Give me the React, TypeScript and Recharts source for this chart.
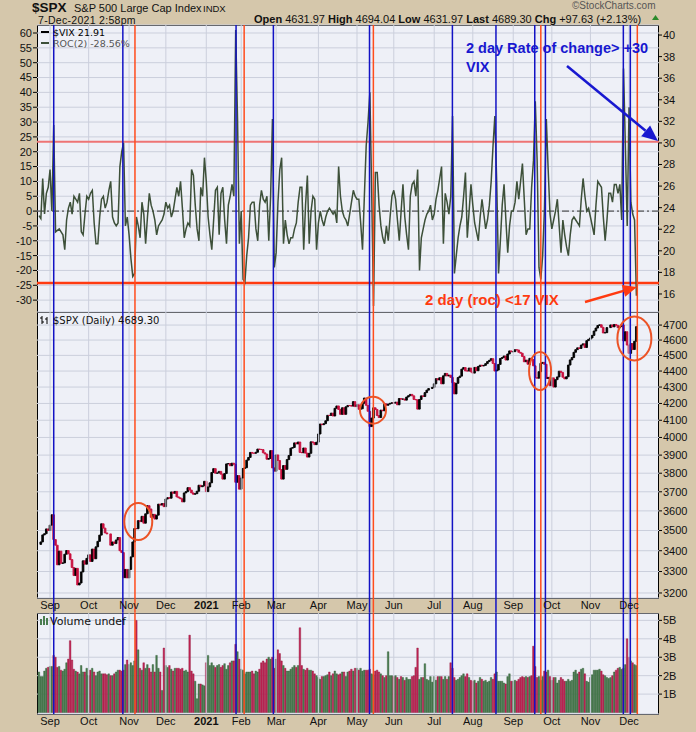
import React from "react";
import {
  Bar,
  CartesianGrid,
  Cell,
  ComposedChart,
  Line,
  ReferenceDot,
  ReferenceLine,
  XAxis,
  YAxis,
} from "recharts";

// trading-day index 0 = 24-Aug-2020, 325 = 7-Dec-2021
const monthStarts = [6, 27, 49, 69, 91, 110, 129, 152, 173, 193, 215, 236, 258, 279, 300, 321];
const monthLabels = ["Sep", "Oct", "Nov", "Dec", "2021", "Feb", "Mar", "Apr", "May", "Jun", "Jul", "Aug", "Sep", "Oct", "Nov", "Dec"];

// ROC(2) of $VIX, percent
const roc = [
  -1.5, -2.5, 11, -1, 6, 8, 14, 0, 29, -7,
  -6.5, -6, -7, -8, -13, -3, 1, 3, -1, 5,
  4, 3, 6, -7, -8, -1, 5, 4, 6, 7,
  -4, -11, -11, -2, 4, 5, 1, 3, 7, 10,
  -2, -4, -5, -4, 15, 20, 23, -5, -2, -8,
  -16, -22, -21, -2, -5, -9, 3, -1, -11, -2,
  6, 2, 0, -3, -8, -5, -4, -3, -1, 3,
  1, 2, -2, 0, 4, 8, 5, 10, 1, -9,
  -6, -4, -5, 14, 12, 2, -6, -10, 8, 5,
  18, 10, -2, -8, -13, -3, 7, 8, -8, 6,
  8, -3, -11, 2, 5, 9, 5, 61, 31, -11,
  0, -23, -24, -15, -9, 2, 3, 3, -6, -10,
  2, 7, 4, 3, 5, -10, 5, 31, -19, -14,
  3, 14, 18, -11, -3, -8, -11, -9, -9, -6,
  -4, 3, 8, 8, -13, 2, 12, -11, 0, 5,
  4, -13, -4, 0, -3, -5, -2, 0, 1, 0,
  -1, 0, -4, 15, 5, 0, -2, -3, -5, -1,
  3, 7, 5, 4, 4, -4, -13, 5, 22, 30,
  40, 6, -32, 13, 13, 2, -5, -9, -11, -5,
  -10, -2, 5, 7, 4, -3, -10, 0, 9, -2,
  -8, -13, 5, 9, 10, 5, 14, -20, -9, -6,
  -3, -1, 0, 2, -3, -1, 4, 7, 11, 15,
  -11, 6, 3, -1, 5, 32, -21, -15, -9, -5,
  -2, 5, 13, -9, 0, 9, 2, -4, -7, -10,
  -2, 4, -1, -6, -3, 2, 10, 22, 32, 10,
  -21, -10, 2, 9, -3, -14, -5, 0, 0, 3,
  10, 4, 10, 16, 4, -8, -6, -6, 8, 17,
  37, 17, -19, -23, -15, 1, 31, 14, -1, -6,
  -3, 0, 4, -5, -14, -3, -8, -12, -15, -8,
  -3, -2, -3, -4, -5, 4, 11, 5, 0, 1,
  -2, -5, -8, 2, 10, 9, 8, -2, -10, -3,
  6, 6, 3, 9, 9, 6, 9, -3, 48, 22,
  -5, 35, 3, -1, -3, -28.56,
];

// $SPX daily close
const spxClose = [
  3431, 3443, 3478, 3484, 3508, 3500,
  3527, 3580, 3455, 3427, 3332, 3398, 3339, 3341, 3383, 3401, 3385, 3357, 3319, 3281, 3315, 3237, 3246, 3298, 3351, 3335, 3363,
  3380, 3348, 3408, 3361, 3419, 3446, 3477, 3534, 3512, 3488, 3483, 3483, 3427, 3443, 3435, 3453, 3465, 3400, 3391, 3271, 3310, 3270,
  3310, 3370, 3443, 3510, 3509, 3550, 3545, 3572, 3537, 3585, 3627, 3610, 3567, 3582, 3558, 3578, 3635, 3630, 3638, 3622,
  3662, 3669, 3666, 3699, 3692, 3702, 3673, 3668, 3663, 3647, 3694, 3701, 3722, 3709, 3694, 3687, 3690, 3703, 3735, 3727, 3732, 3756,
  3701, 3726, 3748, 3804, 3825, 3800, 3801, 3810, 3795, 3768, 3798, 3851, 3853, 3841, 3855, 3849, 3751, 3787, 3714,
  3774, 3826, 3830, 3872, 3887, 3915, 3911, 3910, 3916, 3934, 3932, 3931, 3913, 3906, 3877, 3881, 3925, 3829, 3811,
  3901, 3870, 3820, 3768, 3842, 3821, 3875, 3898, 3939, 3943, 3969, 3963, 3974, 3915, 3913, 3940, 3911, 3889, 3910, 3975, 3971, 3959, 3973,
  4020, 4078, 4074, 4080, 4097, 4129, 4128, 4142, 4125, 4171, 4185, 4164, 4135, 4174, 4135, 4180, 4188, 4187, 4184, 4211, 4181,
  4192, 4165, 4168, 4201, 4233, 4189, 4153, 4063, 4113, 4174, 4164, 4128, 4116, 4160, 4156, 4198, 4189, 4196, 4201, 4204,
  4202, 4208, 4192, 4230, 4226, 4227, 4220, 4239, 4247, 4255, 4246, 4224, 4222, 4166, 4224, 4246, 4242, 4266, 4281, 4291, 4291, 4298,
  4320, 4352, 4344, 4358, 4320, 4370, 4385, 4369, 4374, 4360, 4327, 4258, 4323, 4359, 4368, 4412, 4422, 4401, 4400, 4419, 4395,
  4387, 4423, 4402, 4429, 4437, 4432, 4436, 4447, 4460, 4468, 4479, 4448, 4400, 4406, 4442, 4480, 4486, 4496, 4470, 4509, 4529, 4523,
  4524, 4537, 4535, 4520, 4514, 4493, 4459, 4469, 4443, 4481, 4474, 4433, 4358, 4355, 4396, 4449, 4455, 4443, 4353, 4360, 4308,
  4357, 4300, 4346, 4363, 4399, 4391, 4361, 4351, 4364, 4438, 4471, 4486, 4520, 4537, 4549, 4545, 4567, 4575, 4551, 4596, 4605,
  4614, 4631, 4660, 4680, 4697, 4702, 4685, 4647, 4649, 4683, 4683, 4701, 4688, 4704, 4698, 4682, 4690, 4701, 4595, 4655, 4567,
  4513, 4577, 4538, 4592, 4689.3,
];

// volume, billions
const volume = [
  2.2, 1.95, 1.95, 2.25, 2.4, 2.45, 2.5, 2.5, 3.1, 3.0,
  2.45, 2.5, 2.3, 2.25, 2.35, 2.7, 2.9, 3.9, 2.85, 2.35,
  2.25, 2.2, 2.1, 2.55, 2.2, 2.2, 2.4, 2.0, 2.3, 2.4,
  2.2, 2.0, 2.2, 2.25, 2.1, 2.1, 2.1, 2.05, 2.1, 2.0,
  2.0, 2.1, 2.2, 2.3, 2.3, 2.25, 2.3, 2.6, 2.85, 2.6,
  2.7, 2.55, 2.8, 5.0, 3.4, 2.4, 2.3, 2.7, 2.4, 2.6,
  2.4, 2.2, 2.6, 2.2, 3.1, 2.4, 2.2, 1.2, 3.5, 2.55,
  2.45, 2.55, 2.35, 2.25, 2.4, 2.4, 2.4, 2.35, 2.4, 2.25,
  2.3, 2.2, 4.2, 2.25, 2.1, 1.7, 0.75, 1.55, 1.55, 1.5,
  1.45, 2.7, 3.1, 2.55, 2.7, 2.55, 2.45, 2.55, 2.6, 2.45,
  2.55, 2.65, 2.35, 2.55, 2.7, 2.8, 2.8, 3.7, 3.3, 2.9,
  2.35, 2.3, 2.1, 2.2, 2.2, 2.2, 2.25, 2.1, 2.25, 2.2,
  2.35, 2.7, 2.8, 2.7, 2.9, 3.0, 2.9, 3.0, 2.4, 2.9,
  3.4, 3.2, 2.8, 2.55, 2.4, 2.25, 2.25, 2.35, 2.45, 2.55,
  2.45, 2.55, 4.6, 2.55, 2.35, 2.3, 2.4, 2.3, 2.3, 2.25,
  2.1, 2.0, 1.9, 1.8, 1.95, 1.95, 2.0, 2.05, 2.2, 2.0,
  2.1, 2.25, 2.1, 2.05, 2.1, 2.2, 2.2, 1.95, 2.2, 2.25,
  2.35, 2.25, 2.4, 2.4, 2.3, 2.4, 2.25, 2.3, 2.3, 2.3,
  2.35, 2.1, 2.05, 2.25, 2.3, 2.2, 2.1, 2.0, 1.9, 2.0,
  3.3, 2.0, 2.0, 1.95, 2.0, 1.9, 1.8, 1.95, 1.9, 1.75,
  1.9, 1.8, 1.8, 1.95, 2.0, 2.45, 3.5, 1.8, 1.9, 1.9,
  2.65, 1.8, 1.75, 1.95, 1.65, 1.95, 1.75, 1.95, 1.95, 1.95,
  1.8, 1.95, 1.8, 1.95, 2.7, 2.4, 1.9, 1.75, 1.8, 1.9,
  2.0, 2.1, 1.95, 2.1, 1.9, 1.75, 1.7, 1.75, 1.6, 1.7,
  1.9, 1.8, 1.7, 1.75, 1.65, 1.7, 1.9, 1.8, 2.1, 2.2,
  1.7, 1.7, 1.7, 1.6, 1.55, 1.95, 2.1, 1.7, 1.7, 1.75,
  1.7, 1.8, 1.9, 1.95, 1.9, 1.95, 1.9, 1.95, 2.0, 3.6,
  2.5, 1.9, 1.95, 1.75, 1.95, 2.25, 2.2, 2.3, 1.95, 1.75,
  1.9, 1.9, 1.6, 1.75, 1.9, 1.8, 1.7, 1.7, 1.8, 1.7,
  1.75, 2.2, 2.3, 2.1, 2.2, 2.35, 2.4, 2.1, 1.7, 1.65,
  1.9, 2.05, 2.3, 2.3, 2.3, 2.35, 2.25, 2.05, 2.0, 1.9,
  1.85, 1.9, 2.0, 2.2, 2.3, 2.4, 2.45, 2.35, 2.4, 2.6,
  4.0, 3.0, 2.8, 2.7, 2.6, 2.55,
];

// marker lines (trading-day index)
const blueDays = [8, 45.6, 107.2, 127.5, 179.8, 224.9, 248.6, 269.7, 275.5, 317.9, 321.7];
const redDays = [52.2, 111.6, 181.9, 273, 325.5];

const rocTicks = [-30, -25, -20, -15, -10, -5, 0, 5, 10, 15, 20, 25, 30, 35, 40, 45, 50, 55, 60];
const vixTicks = [16, 18, 20, 22, 24, 26, 28, 30, 32, 34, 36, 38, 40];
const spxTicks = [3200, 3300, 3400, 3500, 3600, 3700, 3800, 3900, 4000, 4100, 4200, 4300, 4400, 4500, 4600, 4700];
const volTicks = [1, 2, 3, 4, 5];

const rows = spxClose.map((c, i) => {
  const prev = i > 0 ? spxClose[i - 1] : c;
  return {
    i,
    roc: roc[i],
    spx: [Math.min(prev, c), Math.max(prev, c)],
    up: c >= prev,
    vol: volume[i],
  };
});

const X_DOMAIN = [-1.1, 337.3];
const BG = "#d5c7ab";
const PANEL = "#eef0f7";
const GRID = "#cbcfdc";
const BLUE = "#1212c4";
const RED = "#ff4c1c";
const FONT = "'Liberation Sans', Arial, sans-serif";

const tickStyle = { fontSize: 11, fill: "#111", fontFamily: FONT };

function MonthTick(props: any) {
  const { x, y, payload } = props;
  const k = monthStarts.indexOf(payload.value);
  const label = k >= 0 ? monthLabels[k] : "";
  return (
    <text x={x} y={y} dy={11} textAnchor="middle" fontSize={11} fontFamily={FONT}
      fontWeight={label === "2021" ? "bold" : "normal"} fill="#111">
      {label}
    </text>
  );
}

function monthGrid(yAxisId?: string) {
  return monthStarts.map((m) => (
    <ReferenceLine key={"g" + m} x={m} yAxisId={yAxisId} stroke={GRID} strokeWidth={1} />
  ));
}

function markerLines(yAxisId?: string, seg?: [number, number]) {
  const all = [
    ...blueDays.map((d) => ({ d, c: BLUE })),
    ...redDays.map((d) => ({ d, c: RED })),
  ];
  return all.map(({ d, c }) =>
    seg ? (
      <ReferenceLine key={"m" + d} yAxisId={yAxisId} ifOverflow="visible"
        segment={[{ x: d, y: seg[0] }, { x: d, y: seg[1] }]} stroke={c} strokeWidth={1.5} />
    ) : (
      <ReferenceLine key={"m" + d} x={d} yAxisId={yAxisId} stroke={c} strokeWidth={1.5} />
    )
  );
}

const circles = [
  { x: 54, y: 3545, rx: 14, ry: 18.5 },
  { x: 181.7, y: 4160, rx: 13, ry: 13.5 },
  { x: 272.6, y: 4400, rx: 11, ry: 19 },
  { x: 323.9, y: 4611, rx: 17, ry: 22 },
];

function Panel({ top, height }: { top: number; height: number }) {
  return (
    <div style={{ position: "absolute", left: 37, top, width: 622, height, background: PANEL, border: "1px solid #000", boxSizing: "border-box" }} />
  );
}

export default function App() {
  return (
    <div style={{ position: "absolute", left: 0, top: 0, width: 696, height: 732, background: BG, fontFamily: FONT, overflow: "hidden" }}>
      <Panel top={25} height={288} />
      <Panel top={312} height={287} />
      <Panel top={613} height={102} />

      {/* ROC(2) panel */}
      <div style={{ position: "absolute", left: 0, top: 0 }}>
        <ComposedChart width={696} height={312} data={rows} margin={{ top: 25, right: 0, bottom: 0, left: 0 }}>
          <XAxis type="number" dataKey="i" domain={X_DOMAIN} allowDataOverflow hide />
          <YAxis yAxisId="roc" orientation="left" width={37} domain={[-34, 62.7]} ticks={rocTicks} allowDataOverflow
            axisLine={false} tickSize={4} tickMargin={1} tickLine={{ stroke: "#000" }} tick={tickStyle} interval={0} />
          <YAxis yAxisId="vix" orientation="right" width={37} domain={[14.33, 40.93]} ticks={vixTicks} allowDataOverflow
            axisLine={false} tickSize={3} tickMargin={1} tickLine={{ stroke: "#000" }} tick={tickStyle} interval={0} />
          <CartesianGrid yAxisId="roc" vertical={false} stroke={GRID} />
          {monthGrid("roc")}
          <ReferenceLine yAxisId="roc" y={0} stroke="#333" strokeDasharray="7 3 2 3" />
          <ReferenceLine yAxisId="roc" y={23.4} stroke="#ee7474" strokeWidth={2} />
          <ReferenceLine yAxisId="roc" y={-24.2} stroke="#ff3a10" strokeWidth={2.5} />
          <Line yAxisId="roc" dataKey="roc" type="linear" stroke="#3d5039" strokeWidth={1.5} dot={false} isAnimationActive={false} />
          {markerLines("roc")}
        </ComposedChart>
      </div>

      {/* SPX panel */}
      <div style={{ position: "absolute", left: 0, top: 312 }}>
        <ComposedChart width={696} height={301} data={rows} margin={{ top: 0, right: 0, bottom: 0, left: 37 }}>
          <XAxis type="number" dataKey="i" domain={X_DOMAIN} allowDataOverflow ticks={monthStarts} interval={0}
            height={15} axisLine={false} tickLine={false} tickSize={0} tickMargin={0} tick={<MonthTick />} />
          <YAxis yAxisId="spx" orientation="right" width={37} scale="log" domain={[3177, 4789]} ticks={spxTicks} allowDataOverflow
            axisLine={false} tickSize={3} tickMargin={1} tickLine={{ stroke: "#000" }} tick={tickStyle} interval={0} />
          <CartesianGrid yAxisId="spx" vertical={false} stroke={GRID} />
          {monthGrid("spx")}
          <Bar yAxisId="spx" dataKey="spx" barSize={2} isAnimationActive={false}>
            {rows.map((r) => (
              <Cell key={r.i} fill={r.up ? "#000" : "#c8103e"} stroke={r.up ? "#000" : "#c8103e"} strokeWidth={0.9} />
            ))}
          </Bar>
          {markerLines("spx", [4789, 3110])}
          {circles.map((c, k) => (
            <ReferenceDot key={k} yAxisId="spx" x={c.x} y={c.y} r={1} ifOverflow="visible"
              shape={(p: any) => <ellipse cx={p.cx} cy={p.cy} rx={c.rx} ry={c.ry} fill="none" stroke="#ec5326" strokeWidth={2} />} />
          ))}
        </ComposedChart>
      </div>

      {/* Volume panel */}
      <div style={{ position: "absolute", left: 0, top: 613 }}>
        <ComposedChart width={696} height={119} data={rows} margin={{ top: 0, right: 0, bottom: 0, left: 37 }}>
          <XAxis type="number" dataKey="i" domain={X_DOMAIN} allowDataOverflow ticks={monthStarts} interval={0}
            height={18} axisLine={false} tickLine={false} tickSize={0} tickMargin={0} tick={<MonthTick />} />
          <YAxis yAxisId="vol" orientation="right" width={37} domain={[-0.08, 5.4]} ticks={volTicks} allowDataOverflow
            axisLine={false} tickSize={3} tickMargin={1} tickLine={{ stroke: "#000" }} tick={tickStyle} interval={0}
            tickFormatter={(v) => `${v}B`} />
          <CartesianGrid yAxisId="vol" vertical={false} stroke={GRID} />
          {monthGrid("vol")}
          <Bar yAxisId="vol" dataKey="vol" barSize={1.6} isAnimationActive={false}>
            {rows.map((r) => (
              <Cell key={r.i} fill={r.up ? "#4a7d50" : "#c42456"} stroke={r.up ? "#2f5a35" : "#8a1438"} strokeWidth={0.4} />
            ))}
          </Bar>
          {markerLines("vol")}
        </ComposedChart>
      </div>

      {/* header, legends and annotations */}
      <svg width={696} height={732} style={{ position: "absolute", left: 0, top: 0, pointerEvents: "none" }}>
        <text x={32} y={12} fontSize={13.5} fontWeight="bold" fill="#111">$SPX</text>
        <text x={74} y={12} fontSize={11} fill="#111">S&amp;P 500 Large Cap Index</text>
        <text x={203} y={12} fontSize={9.5} fill="#111">INDX</text>
        <text x={572} y={9} fontSize={10} fill="#555">©StockCharts.com</text>
        <text x={38} y={24} fontSize={10.5} fill="#111" letterSpacing={0.3}>7-Dec-2021 2:58pm</text>
        <text x={254} y={23} fontSize={11} fill="#111">
          <tspan fontWeight="bold">Open</tspan> 4631.97 <tspan fontWeight="bold">High</tspan> 4694.04{" "}
          <tspan fontWeight="bold">Low</tspan> 4631.97 <tspan fontWeight="bold">Last</tspan> 4689.30{" "}
          <tspan fontWeight="bold">Chg</tspan> +97.63 (+2.13%)
        </text>
        <polygon points="652,20 659,20 655.5,15" fill="#2a8a2a" />

        <line x1={41} y1={32} x2={49} y2={32} stroke="#000" strokeWidth={2} />
        <text x={53} y={36} fontSize={9.5} fill="#000" fontFamily="'DejaVu Sans', sans-serif">$VIX 21.91</text>
        <line x1={41} y1={43} x2={49} y2={43} stroke="#3d5039" strokeWidth={2} />
        <text x={53} y={47} fontSize={9.5} fill="#555" fontFamily="'DejaVu Sans', sans-serif">ROC(2) -28.56%</text>

        <g stroke="#000" strokeWidth={1}>
          <line x1={42} y1={316} x2={42} y2={324} />
          <line x1={40} y1={318} x2={42} y2={318} />
          <line x1={42} y1={322} x2={44} y2={322} />
          <line x1={47} y1={317} x2={47} y2={324} />
          <line x1={45} y1={319} x2={47} y2={319} />
        </g>
        <text x={53} y={324} fontSize={10} fill="#111" fontFamily="'DejaVu Sans', sans-serif">$SPX (Daily) 4689.30</text>

        <g fill="#4a7d50">
          <rect x={40} y={619} width={2} height={6} />
          <rect x={43} y={616} width={2} height={9} />
          <rect x={46} y={618} width={2} height={7} />
        </g>
        <text x={50} y={625} fontSize={11} fill="#111" fontFamily="'DejaVu Sans', sans-serif">Volume undef</text>

        <text x={466} y={53} fontSize={14.5} fontWeight="bold" fill="#1818d0">2 day Rate of change&gt; +30</text>
        <text x={466} y={72} fontSize={14.5} fontWeight="bold" fill="#1818d0">VIX</text>
        <line x1={567} y1={66} x2={645.6} y2={130.8} stroke="#1818d0" strokeWidth={2.5} />
        <polygon points="658,141 641.2,136.2 650.1,125.4" fill="#1818d0" />

        <text x={425} y={305} fontSize={15} fontWeight="bold" fill="#ff3a10">2 day (roc) &lt;17 VIX</text>
        <line x1={585} y1={302} x2={623.5} y2={290.9} stroke="#ff3a10" strokeWidth={2.5} />
        <polygon points="637,287 625.2,296.7 621.8,285.1" fill="#ff3a10" />
      </svg>
    </div>
  );
}
